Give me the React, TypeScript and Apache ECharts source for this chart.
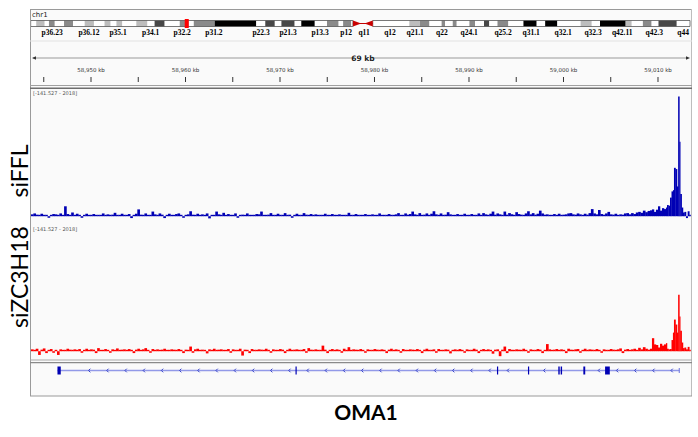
import React, { useEffect, useRef } from 'react';
import * as echarts from 'echarts';

// ---------- genomic window (kb) ----------
const X_MIN = 58943.65;
const X_MAX = 59013.44;
const BIN_KB = 0.25;
const Y_MIN = -141.527;
const Y_MAX = 2018;
const CHR_NAME = 'chr1';
const CHR_LEN_MB = 249;
const GENE_NAME = 'OMA1';
const TRACK_NAMES = ['siFFL', 'siZC3H18'];

// ---------- chromosome ideogram (Mb) ----------
const BANDS: [number, number, string][] = [
  [0, 2.1, 'w'], [2.1, 5.3, 'l'], [5.3, 6.9, 'w'], [6.9, 9.1, 'g'], [9.1, 12.6, 'w'], [12.6, 16.0, 'g'],
  [16.0, 20.4, 'w'], [20.4, 23.9, 'l'], [23.9, 27.9, 'w'], [27.9, 30.2, 'l'], [30.2, 32.4, 'w'], [32.4, 34.6, 'l'],
  [34.6, 39.9, 'w'], [39.9, 44.1, 'l'], [44.1, 46.8, 'w'], [46.8, 50.6, 'd'], [50.6, 56.3, 'w'], [56.3, 59.7, 'g'],
  [59.7, 61.6, 'w'], [61.6, 69.5, 'g'], [69.5, 85.2, 'b'], [85.2, 88.6, 'w'], [88.6, 92.2, 'd'], [92.2, 94.7, 'w'],
  [94.7, 99.7, 'd'], [99.7, 102.2, 'w'], [102.2, 107.3, 'b'], [107.3, 111.9, 'w'], [111.9, 116.3, 'g'], [116.3, 118.0, 'w'],
  [118.0, 121.1, 'g'], [121.1, 121.7, 'w'],
  [129.2, 143.0, 'w'], [143.0, 147.0, 'l'], [147.0, 150.6, 'g'], [150.6, 155.2, 'w'], [155.2, 156.5, 'g'], [156.5, 159.4, 'w'],
  [159.4, 160.9, 'g'], [160.9, 165.7, 'w'], [165.7, 167.8, 'g'], [167.8, 171.2, 'w'], [171.2, 173.2, 'd'], [173.2, 176.3, 'w'],
  [176.3, 180.4, 'g'], [180.4, 186.1, 'w'], [186.1, 191.1, 'b'], [191.1, 194.3, 'w'], [194.3, 198.9, 'b'], [198.9, 207.7, 'w'],
  [207.7, 211.9, 'l'], [211.9, 215.0, 'w'], [215.0, 224.7, 'b'], [224.7, 227.0, 'l'], [227.0, 231.2, 'w'], [231.2, 234.5, 'g'],
  [234.5, 237.1, 'w'], [237.1, 244.0, 'd'], [244.0, 249.0, 'w'],
];
const ARMS: [number, number][] = [[0, 121.7], [129.2, 249]];
const CENTROMERE: [number, number] = [121.7, 129.2];
const BAND_LABELS = ['p36.23', 'p36.12', 'p35.1', 'p34.1', 'p32.2', 'p31.2', 'p22.3', 'p21.3', 'p13.3', 'p12', 'q11',
  'q12', 'q21.1', 'q22', 'q24.1', 'q25.2', 'q31.1', 'q32.1', 'q32.3', 'q42.11', 'q42.3', 'q44'];
const BAND_LABEL_MB = [8.1, 22.0, 33.0, 45.3, 57.2, 69.2, 87.0, 97.2, 109.3, 119.1, 125.9,
  135.7, 145.2, 155.3, 165.6, 178.4, 189.0, 201.1, 212.4, 223.4, 235.5, 246.4];
const STAIN: Record<string, string> = { w: '#ffffff', l: '#bdbdbd', g: '#8a8a8a', d: '#474747', b: '#000000' };

// ---------- ruler ticks (kb) ----------
const RULER_TICKS = [58945, 58950, 58955, 58960, 58965, 58970, 58975, 58980, 58985, 58990, 58995, 59000, 59005, 59010];

// ---------- coverage, 0.25 kb bins from X_MIN ----------
const siFFL_bins = [
  30, 45, 25, 10, 40, 15, 20, -25, 10, 35, 30, 20, 45, 10, 160, 35, 20, 60, 15, 40,
  10, -25, 15, 40, 20, 10, 35, 15, -20, 20, 45, 15, 30, 10, 25, 55, 20, 15, 40, 10,
  20, 35, -30, 20, 40, 110, 25, 15, 45, 20, 10, 75, 30, 20, 45, 25, -30, 15, 40, 20,
  15, 35, 45, 20, -25, 20, 30, 80, 25, 15, 40, 10, 30, 20, 45, -35, 15, 20, 75, 30,
  20, 55, 15, 35, 20, 10, 45, -25, 15, 25, 20, 45, 15, 20, 10, 35, 30, 75, 20, 15,
  25, 50, 20, 15, 40, 10, 20, 50, 15, 25, -25, 20, 40, 15, 20, 50, 25, 10, 35, 15,
  30, 20, 15, 10, 40, 20, 15, 35, 20, 10, 30, 15, 20, 10, 55, 20, 15, 35, 10, 20,
  15, 35, 20, 10, 30, 15, 20, 45, 10, 20, 15, 35, 20, 10, 30, 50, 20, 15, 45, 25,
  35, 75, 30, 20, 50, 15, 25, 45, 20, 40, 80, 30, 20, 45, 15, 25, 65, 30, 20, 15,
  35, 20, 15, 40, 10, 20, 35, 15, 20, 45, 15, 50, 30, 20, 40, 75, 25, 45, 30, 20,
  75, 25, 50, 30, 20, 65, 35, 25, 20, 45, 80, 30, 50, 25, 40, 90, 45, 25, 30, 20,
  15, 35, 20, 40, 15, 25, 30, 45, 50, 30, 25, 45, 30, 20, 40, 25, 50, 115, 45, 30,
  100, 35, 25, 45, 70, 30, 25, 40, 20, 30, 25, 45, 50, 30, 50, 35, 60, 70, 55, 90,
  65, 85,
];
const siZC3H18_bins = [
  30, -20, 40, -60, 25, 45, -30, 20, 35, -25, 15, -60, 30, 20, -15, 40, 25, -20, 30, 15,
  35, -25, 20, 40, -15, 30, 25, -30, 50, 20, -20, 35, 15, -25, 30, 20, 45, -15, 25, 30,
  -20, 35, 20, -30, 25, 40, -15, 30, 50, 20, -25, 35, 15, 30, -20, 25, 40, 20, -15, 30,
  25, -20, 35, 15, -30, 25, 20, 75, -25, 30, 40, -15, 25, 20, -35, 30, 15, 40, -20, 25,
  30, -15, 20, 35, -25, 30, 20, -20, 40, -70, 25, 15, -30, 35, 20, -15, 30, 25, -20, 40,
  15, -25, 30, 20, -15, 35, 25, -30, 20, 40, -20, 25, 30, -15, 20, 35, -25, 50, 25, -20,
  30, 20, -15, 90, 25, -30, 20, 35, -20, 30, 15, -25, 40, 20, 65, -15, 30, 25, -20, 35,
  20, -25, 30, 15, -20, 35, 25, -15, 30, 20, -30, 25, 40, -20, 30, 15, -25, 35, 20, -15,
  30, 25, -20, 35, 15, -30, 25, 40, -15, 20, 30, -25, 35, 20, -20, 30, 25, -35, 20, 30,
  -15, 35, 20, -25, 30, 15, -20, 40, 25, -30, 20, 35, -15, 30, 20, -40, 25, 30, -80, 25,
  75, -30, 35, 20, -20, 30, 25, -15, 40, 20, -25, 30, 15, -20, 35, 25, -30, 20, 115, 30,
  -20, 25, 35, -15, 30, 20, -30, 40, 25, -20, 30, 35, -25, 20, 40, -15, 30, 25, -20, 35,
  20, -25, 30, 15, -20, 35, 25, -15, 30, 45, -30, 25, 35, -20, 30, 40, -15, 55, 30, 65,
  40, 25,
];
// finer segments over the peak at the 3' end (segment start, kb)
const PEAK_STARTS = [59009.15, 59009.36, 59009.57, 59009.78, 59010.0, 59010.21, 59010.42, 59010.63, 59010.84, 59010.95,
  59011.11, 59011.27, 59011.43, 59011.58, 59011.69, 59011.85, 59012.01, 59012.13, 59012.26, 59012.35,
  59012.5, 59012.64, 59012.8, 59012.96, 59013.14, 59013.31];
const siFFL_peak = [95, 110, 70, 105, 160, 90, 130, 115, 140, 180, 170, 300, 400, 420, 780, 760, 480, 1930, 1200, 360,
  140, 60, 70, -30, 80, 10];
const siZC3H18_peak = [40, 210, 110, 100, 60, 120, 90, 110, 130, 40, 30, 35, 180, 300, 510, 430, 300, 910, 560, 330,
  140, 50, 60, 30, 70, 20];

// ---------- gene model (kb) ----------
const GENE_SPAN: [number, number] = [58946.45, 59012.25];
const EXONS: [number, number][] = [
  [58946.45, 58946.8], [58971.64, 58971.75], [58992.96, 58993.07], [58996.24, 58996.35],
  [58999.45, 58999.6], [58999.7, 58999.85], [59002.1, 59002.3], [59004.4, 59004.9],
];

function segments(bins: number[], peakStarts: number[], peak: number[]) {
  const out: number[][] = [];
  bins.forEach((v, i) => out.push([X_MIN + i * BIN_KB, X_MIN + (i + 1) * BIN_KB, v]));
  peak.forEach((v, i) => out.push([peakStarts[i], i + 1 < peakStarts.length ? peakStarts[i + 1] : X_MAX, v]));
  return out;
}

function coverageSeries(idx: number, data: number[][], color: string) {
  return {
    type: 'custom', xAxisIndex: idx, yAxisIndex: idx, silent: true, clip: true, data,
    encode: { x: [0, 1], y: 2 },
    renderItem: (params: any, api: any) => {
      const p0 = api.coord([api.value(0), 0]);
      const p1 = api.coord([api.value(1), api.value(2)]);
      let top = Math.min(p0[1], p1[1]);
      let h = Math.abs(p1[1] - p0[1]);
      if (h < 1.4) { h = 1.4; top = p0[1] - 1.4; }
      return { type: 'rect', shape: { x: p0[0], y: top, width: p1[0] - p0[0] + 0.3, height: h }, style: { fill: color } };
    },
  };
}

const FONT = 'Lato';

function buildOption() {
  const trackLeft = 31, trackWidth = 659.5;
  const grids = [
    { left: 30.67, top: 20.5, width: 659.33, height: 6 },
    { left: trackLeft, top: 60, width: trackWidth, height: 25 },
    { left: trackLeft, top: 91, width: trackWidth, height: 134 },
    { left: trackLeft, top: 226, width: trackWidth, height: 134 },
    { left: trackLeft, top: 366.5, width: trackWidth, height: 8 },
  ];
  const xAxis = grids.map((g, i) => ({
    gridIndex: i, type: 'value', show: false,
    min: i === 0 ? 0 : X_MIN, max: i === 0 ? CHR_LEN_MB : X_MAX,
  }));
  const yAxis = grids.map((g, i) => ({
    gridIndex: i, type: 'value', show: false,
    min: i === 2 || i === 3 ? Y_MIN : 0, max: i === 2 || i === 3 ? Y_MAX : 1,
  }));

  const series: any[] = [
    {
      type: 'custom', xAxisIndex: 0, yAxisIndex: 0, silent: true, data: BANDS.map((b) => [b[0], b[1]]),
      renderItem: (params: any, api: any) => {
        const a = api.coord([api.value(0), 1]);
        const b = api.coord([api.value(1), 0]);
        return { type: 'rect', shape: { x: a[0], y: a[1], width: b[0] - a[0], height: b[1] - a[1] },
          style: { fill: STAIN[BANDS[params.dataIndex][2]] } };
      },
    },
    {
      type: 'custom', xAxisIndex: 0, yAxisIndex: 0, silent: true, data: ARMS,
      renderItem: (params: any, api: any) => {
        const a = api.coord([api.value(0), 1]);
        const b = api.coord([api.value(1), 0]);
        return { type: 'rect', shape: { x: a[0], y: a[1], width: b[0] - a[0], height: b[1] - a[1] },
          style: { fill: 'none', stroke: '#555', lineWidth: 0.8 } };
      },
    },
    {
      type: 'custom', xAxisIndex: 0, yAxisIndex: 0, silent: true, data: [CENTROMERE],
      renderItem: (params: any, api: any) => {
        const a = api.coord([api.value(0), 1]);
        const b = api.coord([api.value(1), 0]);
        const mid = (a[1] + b[1]) / 2;
        const w = (b[0] - a[0]);
        return { type: 'group', children: [
          { type: 'line', shape: { x1: a[0], y1: mid, x2: b[0], y2: mid }, style: { stroke: '#c00000', lineWidth: 1 } },
          { type: 'polygon', shape: { points: [[a[0], a[1]], [a[0] + w * 0.42, mid], [a[0], b[1]]] }, style: { fill: '#c80000' } },
          { type: 'polygon', shape: { points: [[b[0], a[1]], [b[0] - w * 0.42, mid], [b[0], b[1]]] }, style: { fill: '#c80000' } },
        ] };
      },
    },
    {
      type: 'custom', xAxisIndex: 0, yAxisIndex: 0, silent: true, data: [[X_MIN / 1000]],
      renderItem: (params: any, api: any) => {
        const a = api.coord([api.value(0), 1]);
        const b = api.coord([api.value(0), 0]);
        return { type: 'rect', shape: { x: a[0] - 2, y: a[1] - 1.5, width: 4, height: b[1] - a[1] + 3 },
          style: { fill: '#ff0000' } };
      },
    },
    {
      type: 'custom', xAxisIndex: 0, yAxisIndex: 0, silent: true, data: BAND_LABEL_MB.map((m) => [m]),
      renderItem: (params: any, api: any) => {
        const a = api.coord([api.value(0), 0]);
        return { type: 'text', x: a[0], y: a[1] + 5.5,
          style: { text: BAND_LABELS[params.dataIndex], fontSize: 7.5, fontWeight: 'bold', fontFamily: 'Liberation Serif', fill: '#000',
            align: 'center', verticalAlign: 'middle', textAlign: 'center', textVerticalAlign: 'middle' } };
      },
    },
    {
      type: 'custom', xAxisIndex: 1, yAxisIndex: 1, silent: true, data: RULER_TICKS.map((t) => [t]),
      renderItem: (params: any, api: any) => {
        const kb = api.value(0);
        const p = api.coord([kb, 0]);
        const children: any[] = [
          { type: 'line', shape: { x1: p[0], y1: p[1] - 8, x2: p[0], y2: p[1] - 3 }, style: { stroke: '#333', lineWidth: 1 } },
        ];
        if (kb % 10 === 0) {
          children.push({ type: 'text', x: p[0], y: p[1] - 15,
            style: { text: kb.toLocaleString('en-US') + ' kb', fontSize: 5.5, fontFamily: 'DejaVu Sans', fill: '#333',
              align: 'center', verticalAlign: 'middle', textAlign: 'center', textVerticalAlign: 'middle' } });
        }
        return { type: 'group', children };
      },
    },
    coverageSeries(2, segments(siFFL_bins, PEAK_STARTS, siFFL_peak), '#0000b4'),
    coverageSeries(3, segments(siZC3H18_bins, PEAK_STARTS, siZC3H18_peak), '#ff0000'),
    {
      type: 'custom', xAxisIndex: 4, yAxisIndex: 4, silent: true, data: [GENE_SPAN],
      renderItem: (params: any, api: any) => {
        const a = api.coord([api.value(0), 0.5]);
        const b = api.coord([api.value(1), 0.5]);
        const y = a[1];
        const children: any[] = [
          { type: 'line', shape: { x1: a[0], y1: y, x2: b[0], y2: y }, style: { stroke: '#9299e8', lineWidth: 1.6 } },
          { type: 'line', shape: { x1: b[0], y1: y - 2.5, x2: b[0], y2: y + 2.5 }, style: { stroke: '#6a72dc', lineWidth: 1 } },
        ];
        const ex = EXONS.map(([s, e]) => [api.coord([s, 0])[0], api.coord([e, 0])[0]]);
        for (let x = a[0] + 31.7; x < b[0] - 4; x += 18.2) {
          if (ex.some(([s, e]) => x > s - 6 && x < e + 6)) continue;
          children.push({ type: 'polyline', shape: { points: [[x + 1.2, y - 1.8], [x - 0.6, y], [x + 1.2, y + 1.8]] },
            style: { stroke: '#3340c8', lineWidth: 1, fill: 'none' } });
        }
        return { type: 'group', children };
      },
    },
    {
      type: 'custom', xAxisIndex: 4, yAxisIndex: 4, silent: true, data: EXONS,
      renderItem: (params: any, api: any) => {
        const a = api.coord([api.value(0), 1]);
        const b = api.coord([api.value(1), 0]);
        return { type: 'rect', shape: { x: a[0], y: a[1], width: Math.max(1.2, b[0] - a[0]), height: b[1] - a[1] },
          style: { fill: '#0000b4' } };
      },
    },
  ];

  const line = (x1: number, y1: number, x2: number, y2: number, stroke: string, lineWidth = 1) => ({
    type: 'line', silent: true, z: 50, shape: { x1, y1, x2, y2 }, style: { stroke, lineWidth },
  });
  const text = (t: string, x: number, y: number, extra: any = {}) => ({
    type: 'text', silent: true, z: 60, x, y, rotation: extra.rotation || 0,
    style: { text: t, fontFamily: FONT, fill: '#000', align: 'center', verticalAlign: 'middle',
      textAlign: 'center', textVerticalAlign: 'middle', ...extra.style },
  });
  const rangeLabel = `[${Y_MIN} - ${Y_MAX}]`;
  const spanLabel = `${Math.floor(X_MAX - X_MIN)} kb`;

  const graphic: any[] = [
    { type: 'rect', silent: true, z: -10, shape: { x: 30, y: 9, width: 662, height: 387 }, style: { fill: '#fafafa' } },
    line(30, 9.5, 692, 9.5, '#9a9a9a'),
    line(30.5, 9, 30.5, 396, '#9a9a9a'),
    line(691.5, 9, 691.5, 396, '#bdbdbd'),
    line(30, 41, 692, 41, '#e2e2e2'),
    line(30, 85.5, 692, 85.5, '#a0a0a0', 1.2),
    line(30, 88.2, 692, 88.2, '#6e6e6e', 1.5),
    line(30, 360, 692, 360, '#a8a8a8', 1.2),
    line(30, 362.7, 692, 362.7, '#8a8a8a', 1.2),
    line(30, 396, 692, 396, '#9a9a9a', 1.2),
    line(33, 58, 354, 58, '#9a9a9a', 1.2),
    line(372, 58, 688, 58, '#9a9a9a', 1.2),
    { type: 'polygon', silent: true, z: 50, shape: { points: [[32, 58], [36, 56.2], [36, 59.8]] }, style: { fill: '#333' } },
    { type: 'polygon', silent: true, z: 50, shape: { points: [[690, 58], [686, 56.2], [686, 59.8]] }, style: { fill: '#333' } },
    text(spanLabel, 363, 58, { style: { fontSize: 7.5, fontWeight: 'bold', fontFamily: 'DejaVu Sans', fill: '#222' } }),
    { type: 'text', silent: true, z: 60, x: 32, y: 15,
      style: { text: CHR_NAME, fontSize: 7, fontFamily: 'DejaVu Sans', fill: '#222', align: 'left', verticalAlign: 'middle',
        textAlign: 'left', textVerticalAlign: 'middle' } },
    { type: 'text', silent: true, z: 60, x: 33, y: 92.5,
      style: { text: rangeLabel, fontSize: 5, fontFamily: 'DejaVu Sans', fill: '#555', align: 'left', verticalAlign: 'middle',
        textAlign: 'left', textVerticalAlign: 'middle' } },
    { type: 'text', silent: true, z: 60, x: 33, y: 228.5,
      style: { text: rangeLabel, fontSize: 5, fontFamily: 'DejaVu Sans', fill: '#555', align: 'left', verticalAlign: 'middle',
        textAlign: 'left', textVerticalAlign: 'middle' } },
    text(TRACK_NAMES[0], 19, 171, { rotation: Math.PI / 2, style: { fontSize: 23 } }),
    text(TRACK_NAMES[1], 19, 277, { rotation: Math.PI / 2, style: { fontSize: 23 } }),
    text(GENE_NAME, 366, 411, { style: { fontSize: 21, fontWeight: 'bold' } }),
  ];

  return { animation: false, backgroundColor: '#ffffff', grid: grids, xAxis, yAxis, series, graphic };
}

export default function App() {
  const ref = useRef<HTMLDivElement>(null);
  useEffect(() => {
    if (!ref.current) return;
    const chart = echarts.init(ref.current, null, { renderer: 'svg' });
    chart.setOption(buildOption() as any);
    return () => chart.dispose();
  }, []);
  return <div ref={ref} style={{ position: 'absolute', left: 0, top: 0, width: 698, height: 437 }} />;
}
